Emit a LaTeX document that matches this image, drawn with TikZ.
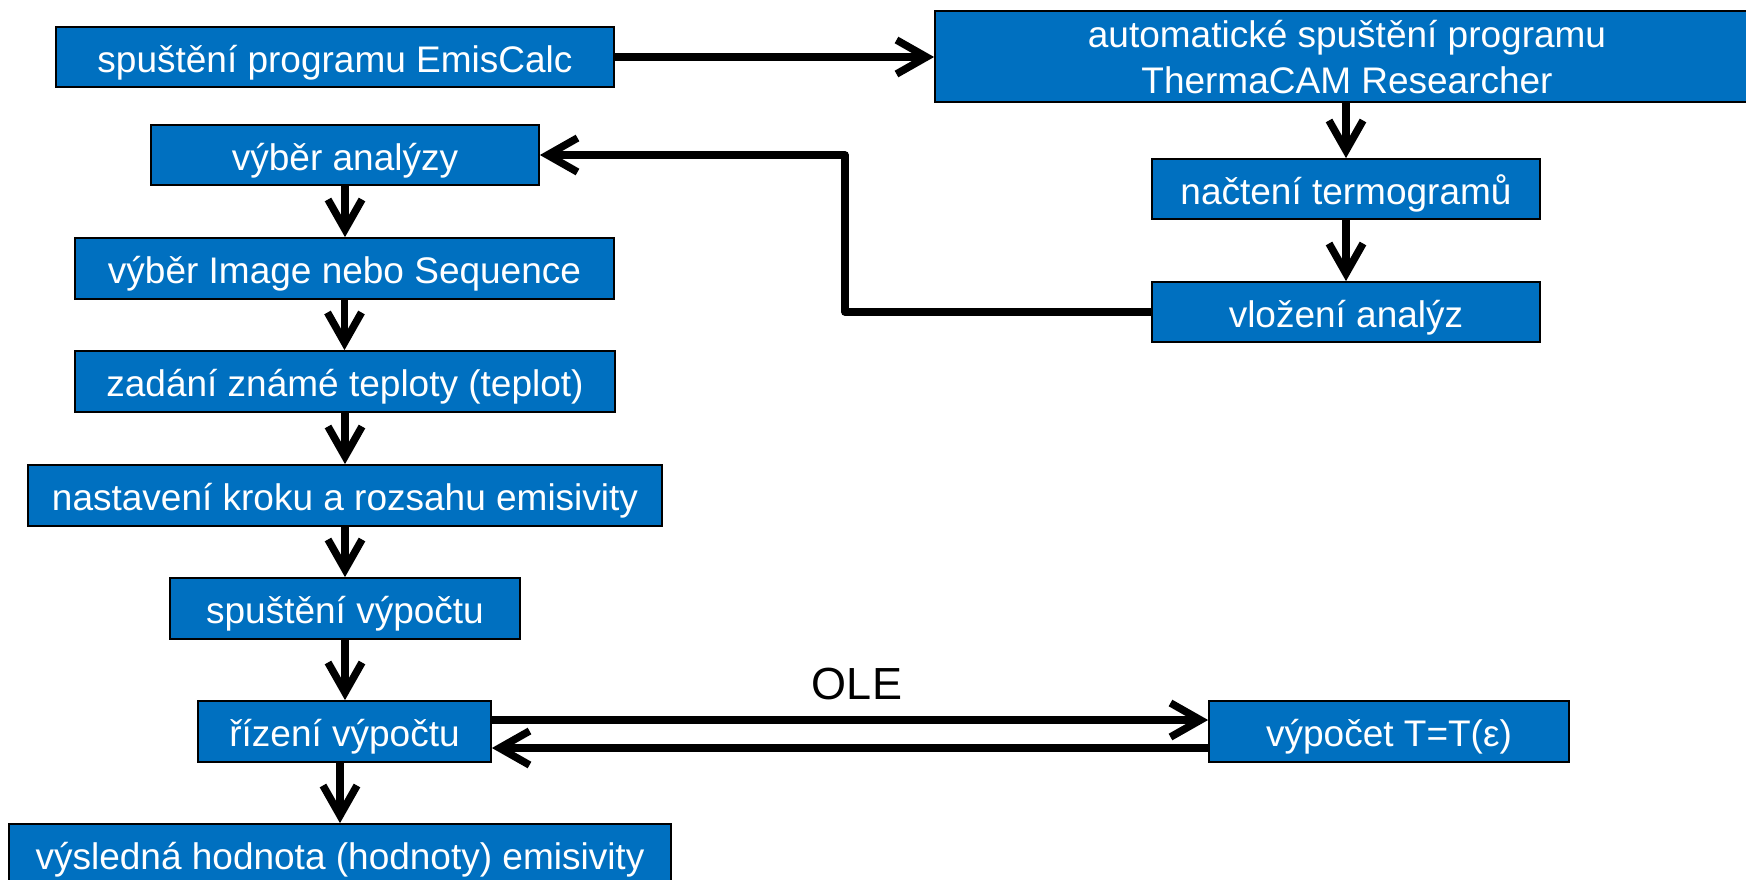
\documentclass[tikz,border=0pt]{standalone}
\usepackage{fontspec}
\setmainfont{Liberation Sans}
\usetikzlibrary{arrows.meta}
\definecolor{boxblue}{RGB}{0,112,192}
\begin{document}
\begin{tikzpicture}[x=1pt,y=-1pt,
  box/.style={draw=black, line width=1.8pt, fill=boxblue, text=white, inner sep=0pt,
    font=\fontsize{37}{42}\selectfont, text height=30pt, text depth=0pt},
  arr/.style={line width=7.5pt, line join=round, -{Straight Barb[length=30pt,width=34pt]}},
  plain/.style={line width=7.5pt, line join=round}]
\useasboundingbox (0,0) rectangle (1746,879);
\fill[white] (0,0) rectangle (1746,879);
% left column
\node[box, minimum width=558pt, minimum height=60pt] (b1) at (335,57) {spuštění programu EmisCalc};
\node[box, minimum width=824pt, minimum height=91pt, text height=, text depth=, font=\fontsize{37}{46}\selectfont] (b2) at (1347,56.5) {\raisebox{-11.4pt}[0pt][0pt]{\begin{tabular}{@{}c@{}}automatické spuštění programu\\ThermaCAM Researcher\end{tabular}}};
\node[box, minimum width=388pt, minimum height=60pt] (b3) at (345,155) {výběr analýzy};
\node[box, minimum width=539pt, minimum height=61pt] (b4) at (344.5,268.5) {výběr Image nebo Sequence};
\node[box, minimum width=540pt, minimum height=61pt] (b5) at (345,381.5) {zadání známé teploty (teplot)};
\node[box, minimum width=634pt, minimum height=61pt] (b6) at (345,495.5) {nastavení kroku a rozsahu emisivity};
\node[box, minimum width=350pt, minimum height=61pt] (b7) at (345,608.5) {spuštění výpočtu};
\node[box, minimum width=293pt, minimum height=61pt] (b8) at (344.5,731.5) {řízení výpočtu};
\node[box, minimum width=662pt, minimum height=61pt] (b9) at (340,854.5) {výsledná hodnota (hodnoty) emisivity};
% right column
\node[box, minimum width=388pt, minimum height=60pt] (b10) at (1346,189) {načtení termogramů};
\node[box, minimum width=388pt, minimum height=60pt] (b11) at (1346,312) {vložení analýz};
\node[box, minimum width=360pt, minimum height=61pt] (b12) at (1389,731.5) {výpočet T=T(ε)};
\node[anchor=base, inner sep=0pt, font=\fontsize{45}{50}\selectfont] (ole) at (857,699) {OLE};
\coordinate (k) at (845,312);
% connectors
\draw[arr] (b1.east) -- (b1.east -| b2.west);
\draw[arr] (b10.north |- b2.south) -- (b10.north);
\draw[arr] (b10.south) -- (b11.north);
\draw[arr] (b11.west) -- (k) |- (b3.east);
\draw[arr] (b3.south) -- (b3.south |- b4.north);
\draw[arr] (b4.south) -- (b4.south |- b5.north);
\draw[arr] (b5.south) -- (b5.south |- b6.north);
\draw[arr] (b6.south) -- (b6.south |- b7.north);
\draw[arr] (b7.south) -- (b7.south |- b8.north);
\draw[arr] (b9.north |- b8.south) -- (b9.north);
\draw[arr] ([yshift=11.5pt]b8.east) -- ([yshift=11.5pt]b8.east -| b12.west);
\draw[arr] ([yshift=-16.5pt]b12.west) -- ([yshift=-16.5pt]b12.west -| b8.east);
\end{tikzpicture}
\end{document}
